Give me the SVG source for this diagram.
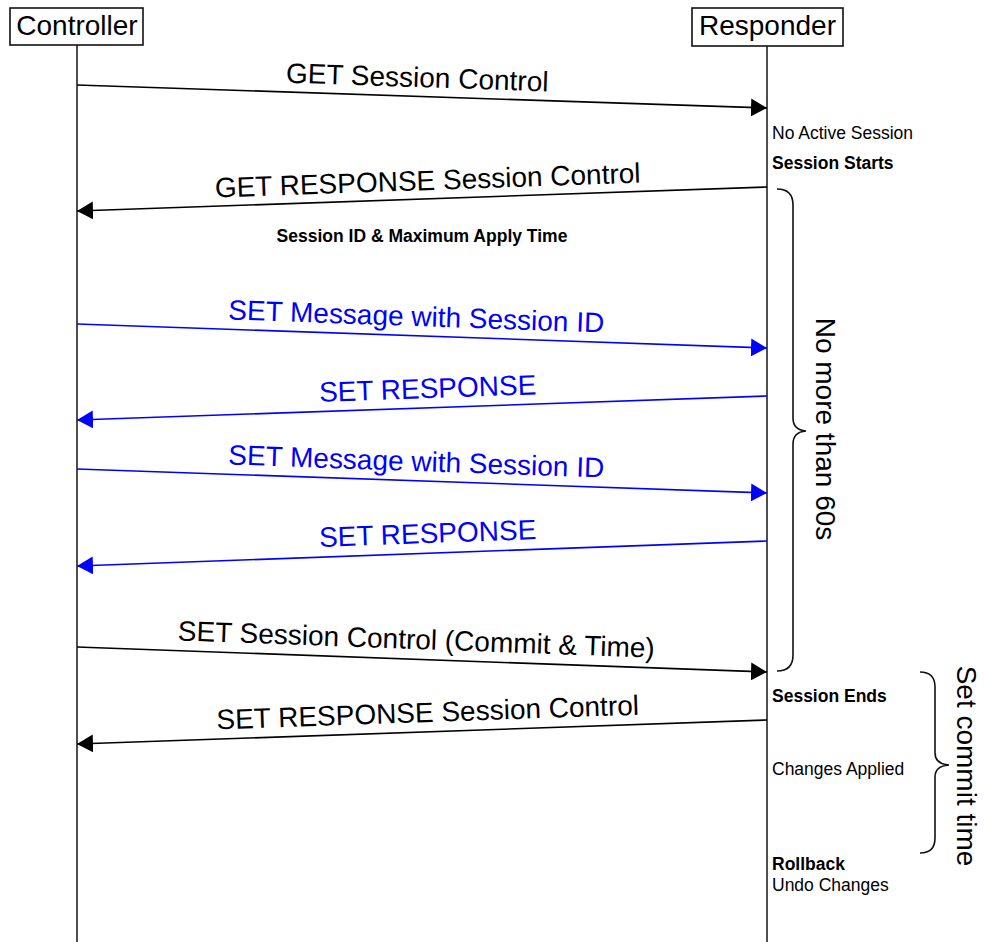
<svg xmlns="http://www.w3.org/2000/svg" width="984" height="942" viewBox="0 0 984 942">
  <style>
    .box { fill: #ffffff; stroke: #111111; stroke-width: 1.6; }
    .life { stroke: #222222; stroke-width: 1.6; fill: none; }
    .title { font-family: "Liberation Sans", Arial, sans-serif; font-size: 28px; fill: #000000; text-anchor: middle; }
    .msg { font-family: "Liberation Sans", Arial, sans-serif; font-size: 28px; text-anchor: middle; }
    .black { fill: #000000; }
    .blue { fill: #0000ff; }
    .ln { stroke-width: 1.6; fill: none; }
    .ln.k { stroke: #000000; }
    .ln.b { stroke: #0000ff; }
    .note { font-family: "Liberation Sans", Arial, sans-serif; font-size: 17.5px; fill: #000000; }
    .bold { font-weight: bold; }
    .brace { stroke: #111111; stroke-width: 1.6; fill: none; }
    .side { font-family: "Liberation Sans", Arial, sans-serif; font-size: 28px; fill: #000000; text-anchor: middle; }
  </style>
  <defs>
    <marker id="headK" viewBox="0 0 16 18" refX="16" refY="9" markerWidth="16" markerHeight="18" markerUnits="userSpaceOnUse" orient="auto">
      <path d="M0,0 L16,9 L0,18 Z" fill="#000000"/>
    </marker>
    <marker id="headB" viewBox="0 0 16 18" refX="16" refY="9" markerWidth="16" markerHeight="18" markerUnits="userSpaceOnUse" orient="auto">
      <path d="M0,0 L16,9 L0,18 Z" fill="#0000ff"/>
    </marker>
  </defs>

  <rect width="984" height="942" fill="#ffffff"/>

  <!-- participants -->
  <g id="controller">
    <line class="life" x1="77" y1="45" x2="77" y2="942"/>
    <rect class="box" x="10" y="8" width="133" height="37"/>
    <text class="title" x="77" y="35">Controller</text>
  </g>
  <g id="responder">
    <line class="life" x1="767" y1="46" x2="767" y2="942"/>
    <rect class="box" x="692" y="8" width="151" height="38"/>
    <text class="title" x="767.5" y="35">Responder</text>
  </g>

  <!-- messages -->
  <g id="connectors">
    <line class="ln k" x1="77" y1="85" x2="767" y2="108" marker-end="url(#headK)"/>
    <text class="msg black" x="417" y="87" transform="rotate(1.91 417 87)">GET Session Control</text>

    <line class="ln k" x1="767" y1="187" x2="77" y2="211" marker-end="url(#headK)"/>
    <text class="msg black" x="428" y="190" transform="rotate(-1.99 428 190)">GET RESPONSE Session Control</text>

    <line class="ln b" x1="77" y1="324" x2="767" y2="348" marker-end="url(#headB)"/>
    <text class="msg blue" x="416" y="326" transform="rotate(1.99 416 326)">SET Message with Session ID</text>

    <line class="ln b" x1="767" y1="396" x2="77" y2="420" marker-end="url(#headB)"/>
    <text class="msg blue" x="428" y="398" transform="rotate(-1.99 428 398)">SET RESPONSE</text>

    <line class="ln b" x1="77" y1="469" x2="767" y2="493" marker-end="url(#headB)"/>
    <text class="msg blue" x="416" y="471" transform="rotate(1.99 416 471)">SET Message with Session ID</text>

    <line class="ln b" x1="767" y1="541" x2="77" y2="566" marker-end="url(#headB)"/>
    <text class="msg blue" x="428" y="543" transform="rotate(-2.07 428 543)">SET RESPONSE</text>

    <line class="ln k" x1="77" y1="647" x2="767" y2="672" marker-end="url(#headK)"/>
    <text class="msg black" x="416" y="649" transform="rotate(2.07 416 649)">SET Session Control (Commit &amp; Time)</text>

    <line class="ln k" x1="767" y1="720" x2="77" y2="744" marker-end="url(#headK)"/>
    <text class="msg black" x="428" y="722" transform="rotate(-1.99 428 722)">SET RESPONSE Session Control</text>
  </g>

  <!-- annotations -->
  <g id="notes">
    <text class="note" x="772" y="139">No Active Session</text>
    <text class="note bold" x="772" y="169">Session Starts</text>
    <text class="note bold" x="422" y="242" text-anchor="middle">Session ID &amp; Maximum Apply Time</text>
    <text class="note bold" x="772" y="702">Session Ends</text>
    <text class="note" x="772" y="775">Changes Applied</text>
    <text class="note bold" x="772" y="870">Rollback</text>
    <text class="note" x="772" y="891">Undo Changes</text>
  </g>

  <!-- session window brace -->
  <g id="brace-session">
    <path class="brace" d="M777,189 Q793,189 793,205 L793,418 Q793,430 806,431 Q793,432 793,444 L793,655 Q793,671 777,671"/>
    <text class="side" transform="translate(816 429) rotate(90)">No more than 60s</text>
  </g>

  <!-- commit time brace -->
  <g id="brace-commit">
    <path class="brace" d="M920,672 Q935,672 935,687 L935,753 Q935,764 949,765 Q935,766 935,777 L935,838 Q935,853 920,853"/>
    <text class="side" transform="translate(957 766) rotate(90)">Set commit time</text>
  </g>
</svg>
